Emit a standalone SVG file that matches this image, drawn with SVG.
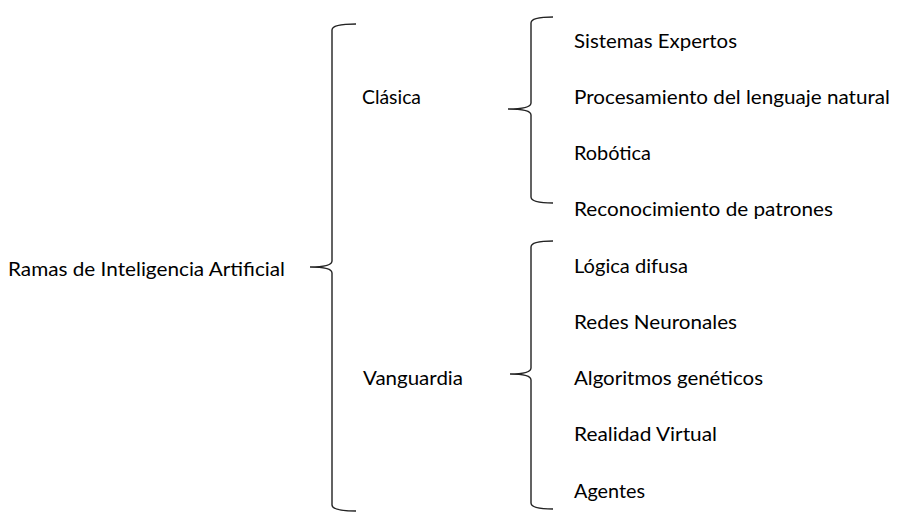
<svg xmlns="http://www.w3.org/2000/svg" width="910" height="525" viewBox="0 0 910 525">
<style>
text{font-family:Lato,"Open Sans","Liberation Sans",sans-serif;font-size:20px;fill:#000}
.brace{fill:none;stroke:#222;stroke-width:1.4}
</style>
<rect width="910" height="525" fill="#fff"/>
<g id="connectors">
<path class="brace" d="M356,24 Q332,24 332,30 L332,261 Q332,267 310,267 Q332,267 332,273 L332,505 Q332,511 356,511"/>
<path class="brace" d="M553,17 Q531,17 531,23 L531,103 Q531,109 508,109 Q531,109 531,115 L531,197 Q531,203 553,203"/>
<path class="brace" d="M553,241 Q531,241 531,247 L531,368 Q531,374 510,374 Q531,374 531,380 L531,503 Q531,509 553,509"/>
</g>
<g id="root"><text x="8" y="276" textLength="277" lengthAdjust="spacingAndGlyphs">Ramas de Inteligencia Artificial</text></g>
<g id="clasica"><text x="362" y="104" textLength="59" lengthAdjust="spacingAndGlyphs">Clásica</text></g>
<g id="vanguardia"><text x="363" y="385" textLength="100" lengthAdjust="spacingAndGlyphs">Vanguardia</text></g>
<g id="sistemas"><text x="574" y="48" textLength="163" lengthAdjust="spacingAndGlyphs">Sistemas Expertos</text></g>
<g id="procesamiento"><text x="574" y="104" textLength="316" lengthAdjust="spacingAndGlyphs">Procesamiento del lenguaje natural</text></g>
<g id="robotica"><text x="574" y="160" textLength="77" lengthAdjust="spacingAndGlyphs">Robótica</text></g>
<g id="reconocimiento"><text x="574" y="216" textLength="259" lengthAdjust="spacingAndGlyphs">Reconocimiento de patrones</text></g>
<g id="logica"><text x="574" y="273" textLength="114" lengthAdjust="spacingAndGlyphs">Lógica difusa</text></g>
<g id="redes"><text x="574" y="329" textLength="163" lengthAdjust="spacingAndGlyphs">Redes Neuronales</text></g>
<g id="algoritmos"><text x="574" y="385" textLength="189" lengthAdjust="spacingAndGlyphs">Algoritmos genéticos</text></g>
<g id="realidad"><text x="574" y="441" textLength="143" lengthAdjust="spacingAndGlyphs">Realidad Virtual</text></g>
<g id="agentes"><text x="574" y="498" textLength="71" lengthAdjust="spacingAndGlyphs">Agentes</text></g>
</svg>
